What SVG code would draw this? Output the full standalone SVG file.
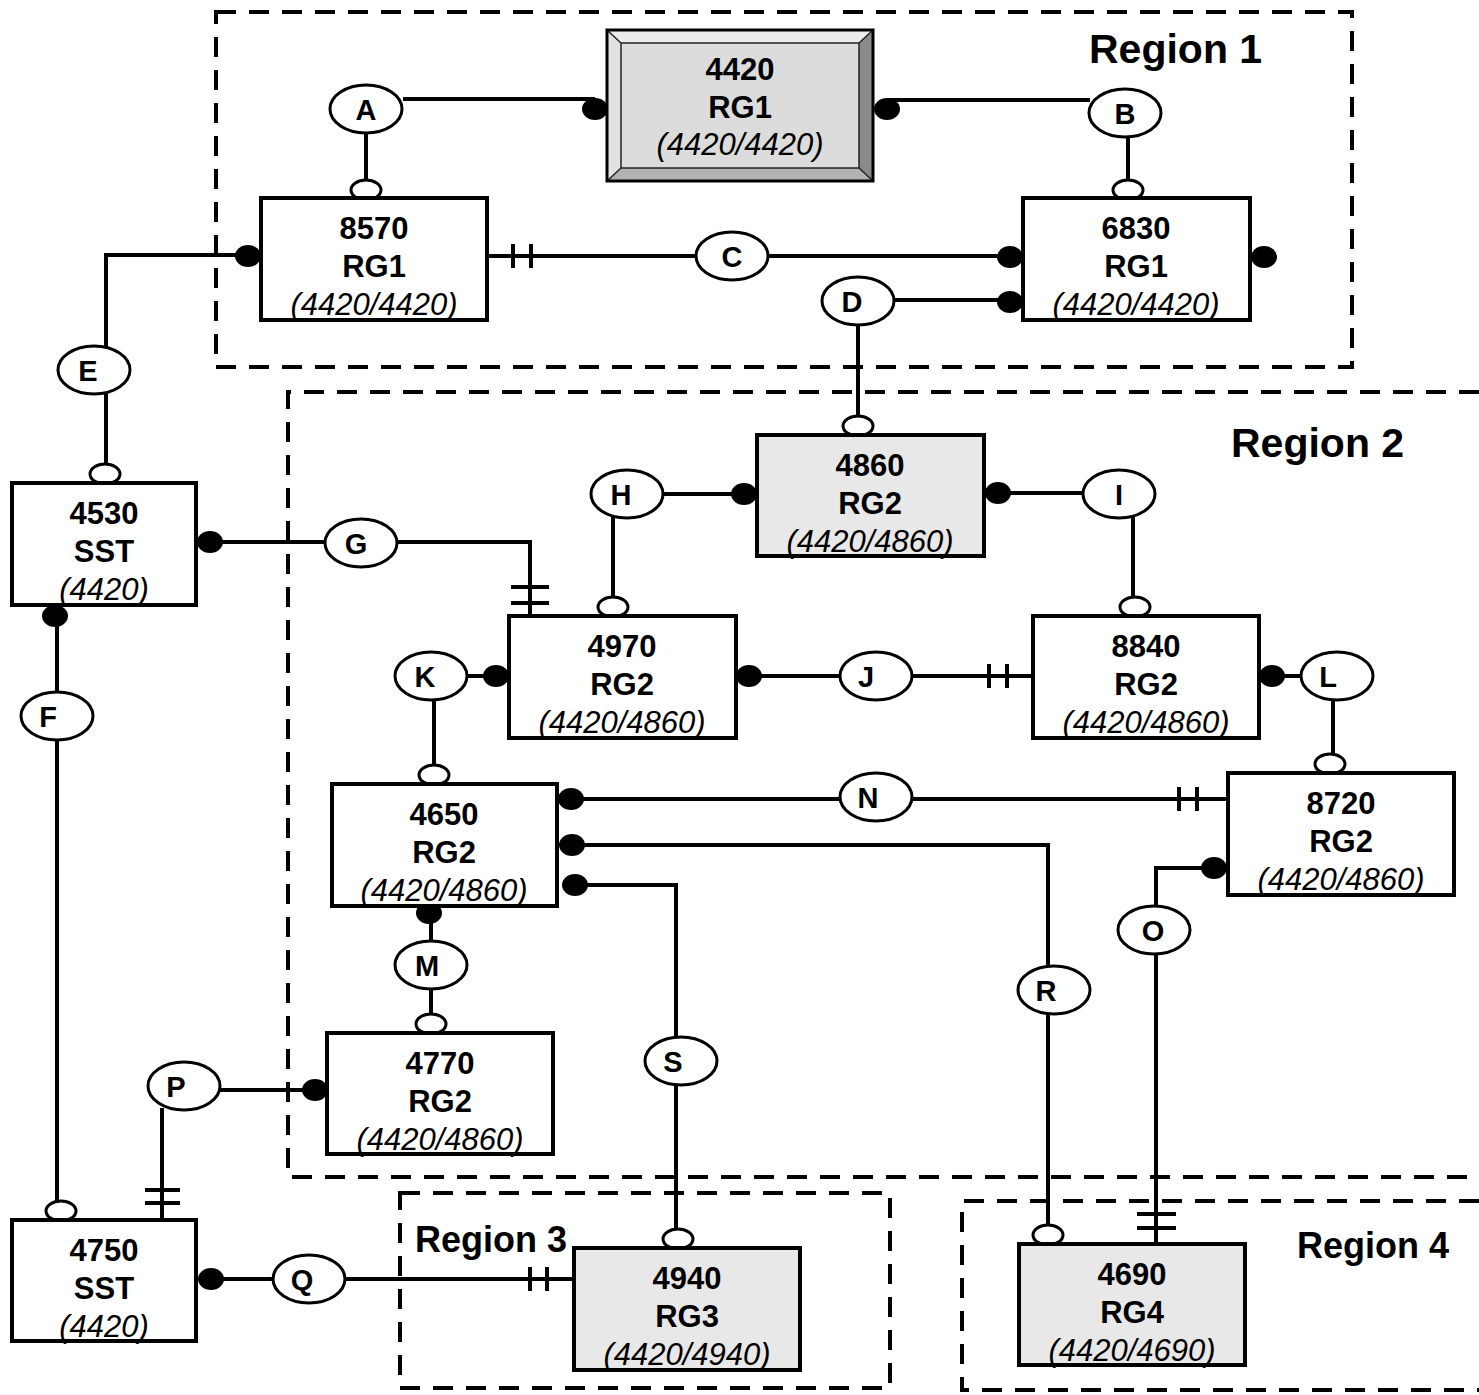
<svg xmlns="http://www.w3.org/2000/svg" width="1479" height="1395" viewBox="0 0 1479 1395">
<style>
.region{fill:none;stroke:#000;stroke-width:4;stroke-dasharray:20 13}
.rt{font-family:"Liberation Sans",Arial,sans-serif;font-weight:bold;fill:#000}
.box{fill:#fff;stroke:#000;stroke-width:4}
.gbox{fill:#e8e8e8;stroke:#000;stroke-width:4}
.t{font-family:"Liberation Sans",Arial,sans-serif;font-weight:bold;font-size:31px;text-anchor:middle;fill:#000}
.ti{font-family:"Liberation Sans",Arial,sans-serif;font-style:italic;font-size:31px;text-anchor:middle;fill:#000}
.ln{fill:none;stroke:#000;stroke-width:4}
.dot{fill:#000}
.open{fill:#fff;stroke:#000;stroke-width:3}
.lab{fill:#fff;stroke:#000;stroke-width:3}
.lt{font-family:"Liberation Sans",Arial,sans-serif;font-weight:bold;font-size:29px;text-anchor:middle;fill:#000}
</style>

<g id="regions">
  <rect class="region" x="216" y="12" width="1136" height="355"/>
  <path class="region" d="M1479,392 H288 V1177 H1479"/>
  <rect class="region" x="400" y="1193" width="490" height="195"/>
  <path class="region" d="M1479,1201 H962 V1390 H1479"/>
  <text class="rt" x="1089" y="63" font-size="41">Region 1</text>
  <text class="rt" x="1231" y="457" font-size="41">Region 2</text>
  <text class="rt" x="415" y="1252" font-size="36">Region 3</text>
  <text class="rt" x="1297" y="1258" font-size="36">Region 4</text>
</g>

<g id="connectors">
  <!-- A -->
  <path class="ln" d="M403,99 H595"/>
  <path class="ln" d="M366,132 V190"/>
  <!-- B -->
  <path class="ln" d="M887,100 H1090"/>
  <path class="ln" d="M1128,136 V190"/>
  <!-- C -->
  <path class="ln" d="M487,256 H696"/>
  <path class="ln" d="M513,244 V268 M531,244 V268"/>
  <path class="ln" d="M768,256 H1010"/>
  <!-- D -->
  <path class="ln" d="M895,300 H1010"/>
  <path class="ln" d="M858,324 V425"/>
  <!-- E -->
  <path class="ln" d="M248,255 H106 V348"/>
  <path class="ln" d="M106,392 V474"/>
  <!-- F -->
  <path class="ln" d="M57,616 V693"/>
  <path class="ln" d="M57,739 V1210"/>
  <!-- G -->
  <path class="ln" d="M210,542 H325"/>
  <path class="ln" d="M397,542 H530 V616"/>
  <path class="ln" d="M511,587 H549 M511,603 H549"/>
  <!-- H -->
  <path class="ln" d="M663,494 H744"/>
  <path class="ln" d="M613,514 V606"/>
  <!-- I -->
  <path class="ln" d="M998,493 H1083"/>
  <path class="ln" d="M1133,516 V606"/>
  <!-- J -->
  <path class="ln" d="M749,676 H840"/>
  <path class="ln" d="M912,676 H1033"/>
  <path class="ln" d="M989,664 V688 M1007,664 V688"/>
  <!-- K -->
  <path class="ln" d="M467,676 H496"/>
  <path class="ln" d="M434,699 V775"/>
  <!-- L -->
  <path class="ln" d="M1272,676 H1301"/>
  <path class="ln" d="M1333,699 V764"/>
  <!-- N -->
  <path class="ln" d="M571,799 H840"/>
  <path class="ln" d="M912,799 H1228"/>
  <path class="ln" d="M1179,787 V811 M1197,787 V811"/>
  <!-- R -->
  <path class="ln" d="M572,845 H1048 V967"/>
  <path class="ln" d="M1048,1013 V1234"/>
  <!-- S -->
  <path class="ln" d="M575,885 H676 V1038"/>
  <path class="ln" d="M676,1084 V1240"/>
  <!-- M -->
  <path class="ln" d="M431,913 V942"/>
  <path class="ln" d="M431,988 V1024"/>
  <!-- O -->
  <path class="ln" d="M1214,868 H1156 V907"/>
  <path class="ln" d="M1156,953 V1244"/>
  <path class="ln" d="M1137,1214 H1176 M1137,1228 H1176"/>
  <!-- P -->
  <path class="ln" d="M220,1090 H315"/>
  <path class="ln" d="M162,1108 V1220"/>
  <path class="ln" d="M145,1190 H180 M145,1203 H180"/>
  <!-- Q -->
  <path class="ln" d="M211,1279 H273"/>
  <path class="ln" d="M345,1279 H574"/>
  <path class="ln" d="M530,1267 V1291 M547,1267 V1291"/>

  <!-- filled ends -->
  <ellipse class="dot" cx="595" cy="109" rx="13" ry="11"/>
  <ellipse class="dot" cx="887" cy="109" rx="13" ry="11"/>
  <ellipse class="dot" cx="1010" cy="257" rx="13" ry="11"/>
  <ellipse class="dot" cx="1010" cy="302" rx="13" ry="11"/>
  <ellipse class="dot" cx="1264" cy="257" rx="13" ry="11"/>
  <ellipse class="dot" cx="248" cy="256" rx="13" ry="11"/>
  <ellipse class="dot" cx="55" cy="616" rx="13" ry="11"/>
  <ellipse class="dot" cx="210" cy="542" rx="13" ry="11"/>
  <ellipse class="dot" cx="744" cy="494" rx="13" ry="11"/>
  <ellipse class="dot" cx="998" cy="493" rx="13" ry="11"/>
  <ellipse class="dot" cx="749" cy="676" rx="13" ry="11"/>
  <ellipse class="dot" cx="496" cy="676" rx="13" ry="11"/>
  <ellipse class="dot" cx="1272" cy="676" rx="13" ry="11"/>
  <ellipse class="dot" cx="571" cy="799" rx="13" ry="11"/>
  <ellipse class="dot" cx="572" cy="845" rx="13" ry="11"/>
  <ellipse class="dot" cx="575" cy="885" rx="13" ry="11"/>
  <ellipse class="dot" cx="429" cy="913" rx="13" ry="11"/>
  <ellipse class="dot" cx="1214" cy="868" rx="13" ry="11"/>
  <ellipse class="dot" cx="315" cy="1090" rx="13" ry="11"/>
  <ellipse class="dot" cx="211" cy="1279" rx="13" ry="11"/>

  <!-- open ends -->
  <ellipse class="open" cx="366" cy="190" rx="15" ry="10"/>
  <ellipse class="open" cx="1128" cy="190" rx="15" ry="10"/>
  <ellipse class="open" cx="858" cy="426" rx="15" ry="10"/>
  <ellipse class="open" cx="105" cy="474" rx="15" ry="10"/>
  <ellipse class="open" cx="61" cy="1211" rx="15" ry="10"/>
  <ellipse class="open" cx="613" cy="607" rx="15" ry="10"/>
  <ellipse class="open" cx="1135" cy="607" rx="15" ry="10"/>
  <ellipse class="open" cx="434" cy="775" rx="15" ry="10"/>
  <ellipse class="open" cx="1330" cy="764" rx="15" ry="10"/>
  <ellipse class="open" cx="1048" cy="1235" rx="15" ry="10"/>
  <ellipse class="open" cx="678" cy="1239" rx="15" ry="10"/>
  <ellipse class="open" cx="431" cy="1024" rx="15" ry="10"/>
</g>

<g id="node-4420">
  <polygon points="607,30 873,30 859,43 621,43" fill="#ececec"/>
  <polygon points="607,30 621,43 621,168 607,181" fill="#e2e2e2"/>
  <polygon points="873,30 873,181 859,168 859,43" fill="#8a8a8a"/>
  <polygon points="607,181 873,181 859,168 621,168" fill="#b2b2b2"/>
  <rect x="621" y="43" width="238" height="125" fill="#dcdcdc" stroke="#222" stroke-width="1.5"/>
  <path d="M607,30 L621,43 M873,30 L859,43 M607,181 L621,168 M873,181 L859,168" stroke="#222" stroke-width="1.5"/>
  <rect x="607" y="30" width="266" height="151" fill="none" stroke="#000" stroke-width="3"/>
  <text class="t" x="740" y="80">4420</text>
  <text class="t" x="740" y="118">RG1</text>
  <text class="ti" x="740" y="155">(4420/4420)</text>
</g>

<g id="node-8570">
  <rect class="box" x="261" y="198" width="226" height="122"/>
  <text class="t" x="374" y="239">8570</text>
  <text class="t" x="374" y="277">RG1</text>
  <text class="ti" x="374" y="315">(4420/4420)</text>
</g>

<g id="node-6830">
  <rect class="box" x="1023" y="198" width="227" height="122"/>
  <text class="t" x="1136" y="239">6830</text>
  <text class="t" x="1136" y="277">RG1</text>
  <text class="ti" x="1136" y="315">(4420/4420)</text>
</g>

<g id="node-4530">
  <rect class="box" x="12" y="483" width="184" height="122"/>
  <text class="t" x="104" y="524">4530</text>
  <text class="t" x="104" y="562">SST</text>
  <text class="ti" x="104" y="600">(4420)</text>
</g>

<g id="node-4860">
  <rect class="gbox" x="757" y="435" width="227" height="121"/>
  <text class="t" x="870" y="476">4860</text>
  <text class="t" x="870" y="514">RG2</text>
  <text class="ti" x="870" y="552">(4420/4860)</text>
</g>

<g id="node-4970">
  <rect class="box" x="509" y="616" width="227" height="122"/>
  <text class="t" x="622" y="657">4970</text>
  <text class="t" x="622" y="695">RG2</text>
  <text class="ti" x="622" y="733">(4420/4860)</text>
</g>

<g id="node-8840">
  <rect class="box" x="1033" y="616" width="226" height="122"/>
  <text class="t" x="1146" y="657">8840</text>
  <text class="t" x="1146" y="695">RG2</text>
  <text class="ti" x="1146" y="733">(4420/4860)</text>
</g>

<g id="node-4650">
  <rect class="box" x="332" y="784" width="225" height="122"/>
  <text class="t" x="444" y="825">4650</text>
  <text class="t" x="444" y="863">RG2</text>
  <text class="ti" x="444" y="901">(4420/4860)</text>
</g>

<g id="node-8720">
  <rect class="box" x="1228" y="773" width="226" height="122"/>
  <text class="t" x="1341" y="814">8720</text>
  <text class="t" x="1341" y="852">RG2</text>
  <text class="ti" x="1341" y="890">(4420/4860)</text>
</g>

<g id="node-4770">
  <rect class="box" x="327" y="1033" width="226" height="121"/>
  <text class="t" x="440" y="1074">4770</text>
  <text class="t" x="440" y="1112">RG2</text>
  <text class="ti" x="440" y="1150">(4420/4860)</text>
</g>

<g id="node-4750">
  <rect class="box" x="12" y="1220" width="184" height="121"/>
  <text class="t" x="104" y="1261">4750</text>
  <text class="t" x="104" y="1299">SST</text>
  <text class="ti" x="104" y="1337">(4420)</text>
</g>

<g id="node-4940">
  <rect class="gbox" x="574" y="1248" width="226" height="122"/>
  <text class="t" x="687" y="1289">4940</text>
  <text class="t" x="687" y="1327">RG3</text>
  <text class="ti" x="687" y="1365">(4420/4940)</text>
</g>

<g id="node-4690">
  <rect class="gbox" x="1019" y="1244" width="226" height="121"/>
  <text class="t" x="1132" y="1285">4690</text>
  <text class="t" x="1132" y="1323">RG4</text>
  <text class="ti" x="1132" y="1361">(4420/4690)</text>
</g>

<g id="labels">
  <g id="label-A"><ellipse class="lab" cx="366" cy="109" rx="36" ry="24"/><text class="lt" x="366" y="120">A</text></g>
  <g id="label-B"><ellipse class="lab" cx="1125" cy="113" rx="36" ry="24"/><text class="lt" x="1125" y="124">B</text></g>
  <g id="label-C"><ellipse class="lab" cx="732" cy="256" rx="36" ry="24"/><text class="lt" x="732" y="267">C</text></g>
  <g id="label-D"><ellipse class="lab" cx="858" cy="301" rx="36" ry="24"/><text class="lt" x="852" y="312">D</text></g>
  <g id="label-E"><ellipse class="lab" cx="94" cy="370" rx="36" ry="24"/><text class="lt" x="88" y="381">E</text></g>
  <g id="label-F"><ellipse class="lab" cx="57" cy="716" rx="36" ry="24"/><text class="lt" x="48" y="727">F</text></g>
  <g id="label-G"><ellipse class="lab" cx="361" cy="543" rx="36" ry="24"/><text class="lt" x="356" y="554">G</text></g>
  <g id="label-H"><ellipse class="lab" cx="627" cy="494" rx="36" ry="24"/><text class="lt" x="621" y="505">H</text></g>
  <g id="label-I"><ellipse class="lab" cx="1119" cy="494" rx="36" ry="24"/><text class="lt" x="1119" y="505">I</text></g>
  <g id="label-J"><ellipse class="lab" cx="876" cy="676" rx="36" ry="24"/><text class="lt" x="866" y="687">J</text></g>
  <g id="label-K"><ellipse class="lab" cx="431" cy="676" rx="36" ry="24"/><text class="lt" x="425" y="687">K</text></g>
  <g id="label-L"><ellipse class="lab" cx="1337" cy="676" rx="36" ry="24"/><text class="lt" x="1328" y="687">L</text></g>
  <g id="label-M"><ellipse class="lab" cx="431" cy="965" rx="36" ry="24"/><text class="lt" x="427" y="976">M</text></g>
  <g id="label-N"><ellipse class="lab" cx="876" cy="797" rx="36" ry="24"/><text class="lt" x="868" y="808">N</text></g>
  <g id="label-O"><ellipse class="lab" cx="1154" cy="930" rx="36" ry="24"/><text class="lt" x="1153" y="941">O</text></g>
  <g id="label-P"><ellipse class="lab" cx="184" cy="1086" rx="36" ry="24"/><text class="lt" x="176" y="1097">P</text></g>
  <g id="label-Q"><ellipse class="lab" cx="309" cy="1279" rx="36" ry="24"/><text class="lt" x="302" y="1290">Q</text></g>
  <g id="label-R"><ellipse class="lab" cx="1054" cy="990" rx="36" ry="24"/><text class="lt" x="1046" y="1001">R</text></g>
  <g id="label-S"><ellipse class="lab" cx="681" cy="1061" rx="36" ry="24"/><text class="lt" x="673" y="1072">S</text></g>
</g>
</svg>
